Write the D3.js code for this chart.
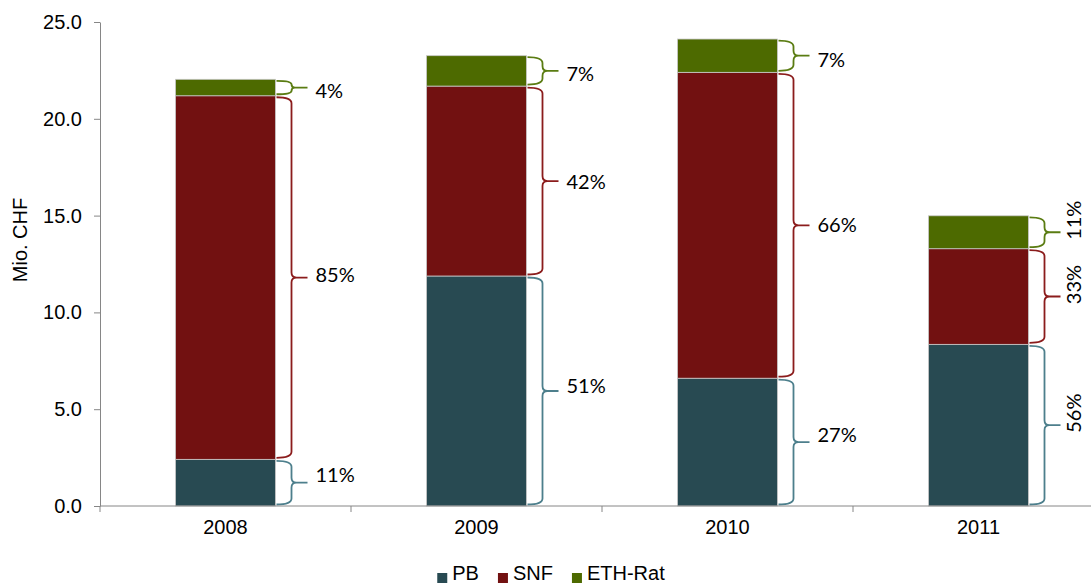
<!DOCTYPE html>
<html lang="de">
<head>
<meta charset="UTF-8">
<title>Mio. CHF</title>
<style>
  body { margin: 0; background: #fff; }
  svg { display: block; }
  .axis text { font-family: "Liberation Sans", Arial, sans-serif; font-size: 20px; fill: #000; }
  .axis path, .axis line { stroke: #868686; }
</style>
</head>
<body>
<svg></svg>
<script src="https://d3js.org/d3.v7.min.js"></script>
<script>
    var years = ["2008", "2009", "2010", "2011"];
    var pb  = [2.41, 11.88, 6.60, 8.35];
    var snf = [18.78, 9.81, 15.80, 4.94];
    var eth = [0.85, 1.57, 1.72, 1.70];
    var pbPct  = ["11%", "51%", "27%", "56%"];
    var snfPct = ["85%", "42%", "66%", "33%"];
    var ethPct = ["4%", "7%", "7%", "11%"];
    var seriesNames = ["PB", "SNF", "ETH-Rat"];
    var yTicks = [0, 5, 10, 15, 20, 25];

    var width = 1091, height = 583;
    // note: "top" is reserved on window, so use plot* names
    var plotLeft = 100, plotRight = 1104, plotTop = 22, plotBottom = 506;
    var barWidth = 100;

    var fills  = ["#284a52", "#721111", "#4d6a00"];
    var braces = ["#4d7f8c", "#8b1c1c", "#5a7c12"];

    var svg = d3.select("svg").attr("width", width).attr("height", height);

    var x = d3.scaleBand().domain(years).range([plotLeft, plotRight]).padding(0);
    var y = d3.scaleLinear().domain([0, 25]).range([plotBottom, plotTop]);

    var rows = years.map(function (d, i) {
        return {year: d, PB: pb[i], SNF: snf[i], "ETH-Rat": eth[i]};
    });
    var labels = {PB: pbPct, SNF: snfPct, "ETH-Rat": ethPct};
    var stack = d3.stack().keys(seriesNames)(rows);

    function barX(d) { return x(d) + (x.bandwidth() - barWidth) / 2; }

    // bars
    var layers = svg.selectAll("g.layer")
        .data(stack)
        .enter().append("g")
        .attr("class", "layer")
        .attr("fill", function (d, i) { return fills[i]; });

    layers.selectAll("rect")
        .data(function (d) { return d; })
        .enter().append("rect")
        .attr("x", function (d) { return barX(d.data.year); })
        .attr("y", function (d) { return y(d[1]); })
        .attr("width", barWidth)
        .attr("height", function (d) { return y(d[0]) - y(d[1]); })
        .attr("stroke", "#c9c9c9")
        .attr("stroke-width", 0.8);

    // curly braces to the right of each segment
    function bracePath(x0, y0, y1, xv, tip) {
        var h = y1 - y0;
        var r = Math.min(6, h / 4);
        var r2 = Math.min(5, h / 4);
        var ym = (y0 + y1) / 2;
        return "M" + x0 + "," + y0 +
            "Q" + xv + "," + y0 + " " + xv + "," + (y0 + r) +
            "L" + xv + "," + (ym - r2) +
            "Q" + xv + "," + ym + " " + (xv + r2) + "," + ym +
            "L" + tip + "," + ym +
            "M" + (xv + r2) + "," + ym +
            "Q" + xv + "," + ym + " " + xv + "," + (ym + r2) +
            "L" + xv + "," + (y1 - r) +
            "Q" + xv + "," + y1 + " " + x0 + "," + y1;
    }

    stack.forEach(function (layer, si) {
        layer.forEach(function (d, i) {
            var bx = barX(d.data.year) + barWidth;
            var y0 = y(d[1]) + 1.5, y1 = y(d[0]) - 1.5;
            var ym = (y0 + y1) / 2;
            svg.append("path")
                .attr("d", bracePath(bx + 1, y0, y1, bx + 16, bx + 32))
                .attr("fill", "none")
                .attr("stroke", braces[si])
                .attr("stroke-width", 1.8);

            var txt = labels[layer.key][i];
            var t = svg.append("text")
                .text(txt)
                .attr("font-family", "Lato, 'Open Sans', sans-serif")
                .attr("font-size", 20)
                .attr("fill", "#000");
            if (i === years.length - 1) {
                t.attr("text-anchor", "middle")
                    .attr("dominant-baseline", "central")
                    .attr("transform", "translate(" + (bx + 44) + "," + (ym - 12) + ") rotate(-90)");
            } else {
                // labels sit a little above the tip, more so lower down
                var off = 3 - 0.028 * (ym - 55);
                t.attr("x", bx + 40)
                    .attr("y", ym + off)
                    .attr("dominant-baseline", "central");
            }
        });
    });

    // y axis
    var yAxis = d3.axisLeft(y).tickValues(yTicks).tickFormat(d3.format(".1f"))
        .tickSize(6).tickPadding(12).tickSizeOuter(0);
    svg.append("g")
        .attr("class", "axis")
        .attr("transform", "translate(" + plotLeft + ",0)")
        .call(yAxis);

    // x axis: labels at band centres, ticks on band boundaries
    var xAxis = d3.axisBottom(x).tickSize(0).tickPadding(14).tickSizeOuter(0);
    var gx = svg.append("g")
        .attr("class", "axis")
        .attr("transform", "translate(0," + plotBottom + ")")
        .call(xAxis);
    gx.select(".domain").attr("d", "M" + plotLeft + ",0H" + plotRight);
    gx.selectAll("line.bound")
        .data(years.map(function (d) { return x(d); }).concat([plotRight]))
        .enter().append("line")
        .attr("class", "bound")
        .attr("x1", function (d) { return d; })
        .attr("x2", function (d) { return d; })
        .attr("y1", 0)
        .attr("y2", 6);

    // y label
    svg.append("text")
        .text("Mio. CHF")
        .attr("font-family", "'Liberation Sans', Arial, sans-serif")
        .attr("font-size", 20)
        .attr("text-anchor", "middle")
        .attr("dominant-baseline", "central")
        .attr("transform", "translate(20,240) rotate(-90)");

    // legend
    var legend = svg.append("g");
    var lx = 0;
    seriesNames.forEach(function (name, i) {
        var g = legend.append("g").attr("transform", "translate(" + lx + ",0)");
        g.append("rect").attr("x", 0).attr("y", -7).attr("width", 10).attr("height", 10)
            .attr("fill", fills[i]);
        var t = g.append("text").text(name).attr("x", 15).attr("y", 0)
            .attr("font-family", "'Liberation Sans', Arial, sans-serif")
            .attr("font-size", 20);
        lx += 15 + t.node().getComputedTextLength() + 19;
    });
    var lw = lx - 19;
    legend.attr("transform", "translate(" + (551 - lw / 2) + ",580)");
</script>
</body>
</html>
